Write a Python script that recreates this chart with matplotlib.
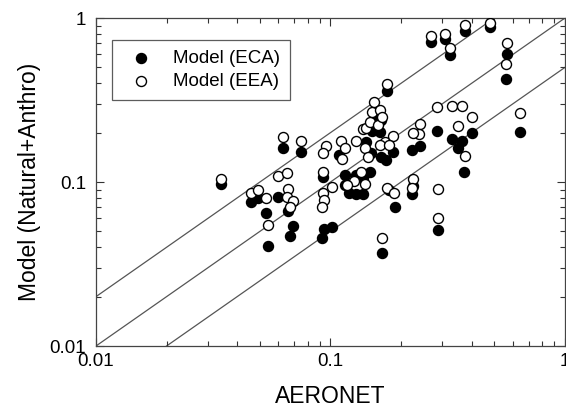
import matplotlib
matplotlib.use("Agg")
import matplotlib.pyplot as plt
import numpy as np
from matplotlib.ticker import FixedLocator, FixedFormatter, LogLocator, NullFormatter

plt.rcParams["font.family"] = ["Liberation Sans", "DejaVu Sans"]

# ECA model (filled circles): AERONET AOD vs model AOD
aeronet_eca = [0.034, 0.046, 0.049, 0.053, 0.054, 0.060, 0.063, 0.066, 0.069, 0.067,
               0.0745, 0.0925, 0.092, 0.094, 0.101, 0.109, 0.115, 0.120, 0.129, 0.129,
               0.137, 0.137, 0.147, 0.142, 0.149, 0.151, 0.162, 0.165, 0.165, 0.173,
               0.184, 0.175, 0.166, 0.178, 0.189, 0.225, 0.223, 0.223, 0.242, 0.288,
               0.285, 0.330, 0.365, 0.351, 0.402, 0.372, 0.644, 0.267, 0.308, 0.324,
               0.375, 0.480, 0.566, 0.561, 0.115, 0.155]
model_eca = [0.097, 0.0755, 0.080, 0.065, 0.041, 0.081, 0.161, 0.0665, 0.054, 0.047,
             0.152, 0.107, 0.0456, 0.0517, 0.053, 0.146, 0.110, 0.086, 0.110, 0.0845,
             0.0845, 0.106, 0.115, 0.175, 0.150, 0.205, 0.202, 0.239, 0.142, 0.136,
             0.152, 0.359, 0.037, 0.089, 0.070, 0.095, 0.0845, 0.157, 0.166, 0.051,
             0.205, 0.183, 0.178, 0.161, 0.199, 0.115, 0.202, 0.714, 0.745, 0.595,
             0.833, 0.881, 0.603, 0.425, 0.096, 0.249]

# EEA model (open circles)
aeronet_eea = [0.034, 0.046, 0.049, 0.053, 0.054, 0.060, 0.065, 0.063, 0.066, 0.065,
               0.069, 0.067, 0.0745, 0.096, 0.0925, 0.093, 0.0925, 0.094, 0.092, 0.101,
               0.111, 0.115, 0.112, 0.129, 0.137, 0.142, 0.148, 0.151, 0.154, 0.163,
               0.160, 0.140, 0.145, 0.170, 0.184, 0.162, 0.178, 0.135, 0.126, 0.140,
               0.118, 0.175, 0.187, 0.166, 0.225, 0.223, 0.288, 0.288, 0.375, 0.175,
               0.285, 0.330, 0.365, 0.402, 0.351, 0.242, 0.239, 0.225, 0.644, 0.267,
               0.308, 0.324, 0.375, 0.480, 0.566, 0.561, 0.166]
model_eea = [0.104, 0.086, 0.089, 0.080, 0.055, 0.109, 0.114, 0.188, 0.091, 0.081,
             0.077, 0.070, 0.178, 0.166, 0.150, 0.115, 0.086, 0.078, 0.070, 0.093,
             0.178, 0.161, 0.138, 0.178, 0.210, 0.213, 0.232, 0.267, 0.308, 0.275,
             0.223, 0.161, 0.142, 0.175, 0.191, 0.168, 0.168, 0.115, 0.101, 0.097,
             0.096, 0.092, 0.086, 0.0456, 0.104, 0.092, 0.091, 0.060, 0.144, 0.396,
             0.287, 0.291, 0.291, 0.249, 0.220, 0.226, 0.196, 0.199, 0.263, 0.777,
             0.799, 0.656, 0.906, 0.933, 0.705, 0.524, 0.249]

ref_factors = [2.0, 1.0, 0.5]

fig = plt.figure(figsize=(5.66, 4.13), dpi=100)
ax = fig.add_axes([0.1696, 0.1622, 0.8286, 0.7942])

xx = np.array([0.01, 1.0])
for f in ref_factors:
    ax.plot(xx, f * xx, color="#555555", lw=0.9, zorder=1)

ax.scatter(aeronet_eca, model_eca, s=52, facecolor="black", edgecolor="black",
           linewidths=1.0, label="Model (ECA)", zorder=2)
ax.scatter(aeronet_eea, model_eea, s=52, facecolor="white", edgecolor="black",
           linewidths=1.0, label="Model (EEA)", zorder=3)

ax.set_xscale("log")
ax.set_yscale("log")
ax.set_xlim(0.01, 1)
ax.set_ylim(0.01, 1)

for axis in (ax.xaxis, ax.yaxis):
    axis.set_major_locator(FixedLocator([0.01, 0.1, 1]))
    axis.set_major_formatter(FixedFormatter(["0.01", "0.1", "1"]))
    axis.set_minor_locator(LogLocator(base=10, subs=np.arange(2, 10)))
    axis.set_minor_formatter(NullFormatter())

ax.tick_params(which="both", direction="in", top=True, right=True, colors="#333333",
               labelcolor="black", labelsize=13.5)
ax.tick_params(which="major", length=6, width=0.8)
ax.tick_params(which="minor", length=3.5, width=0.8)
ax.tick_params(axis="x", which="major", pad=5)
ax.tick_params(axis="y", which="major", pad=7)
for sp in ax.spines.values():
    sp.set_color("#444444")
    sp.set_linewidth(0.9)

ax.set_xlabel("AERONET", fontsize=16.5, labelpad=11)
ax.set_ylabel("Model (Natural+Anthro)", fontsize=16.5, labelpad=6)

leg = ax.legend(loc="upper left", bbox_to_anchor=(0.034, 0.933), borderaxespad=0,
                fancybox=False, edgecolor="#333333", fontsize=13.5, handletextpad=0.7,
                borderpad=0.55, labelspacing=0.3)
leg.get_frame().set_linewidth(0.9)

fig.savefig("out.png", dpi=100)
